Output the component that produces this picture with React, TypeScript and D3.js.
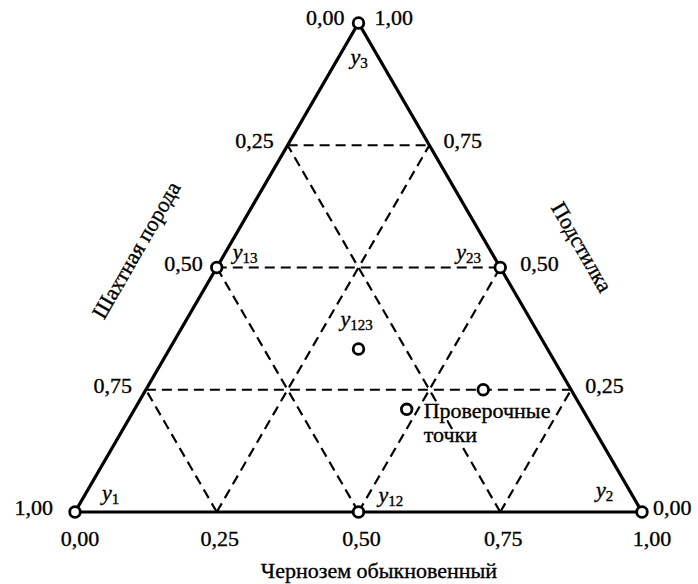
import React from "react";
import * as d3 from "d3";

// ---- data ----
const bottomTicks = ["0,00", "0,25", "0,50", "0,75", "1,00"];
const leftTicks = ["1,00", "0,75", "0,50", "0,25", "0,00"]; // at heights 0 .. 1
const rightTicks = ["0,00", "0,25", "0,50", "0,75", "1,00"]; // at heights 0 .. 1
const tickLevels = [0, 0.25, 0.5, 0.75, 1];
const gridLevels = [0.25, 0.5, 0.75];

const designNames = ["1", "2", "3", "12", "13", "23", "123"];
const designA = [1, 0, 0, 0.5, 0.5, 0, 1 / 3];
const designB = [0, 1, 0, 0.5, 0, 0.5, 1 / 3];
const designC = [0, 0, 1, 0, 0.5, 0.5, 1 / 3];

const checkA = [0.31, 0.155];
const checkB = [0.48, 0.595];
const checkC = [0.21, 0.25];

const bottomTitle = "Чернозем обыкновенный";
const leftTitle = "Шахтная порода";
const rightTitle = "Подстилка";
const checkLabel = ["Проверочные", "точки"];

// ---- layout ----
const W = 698;
const H = 584;
const FONT = "'Liberation Serif', 'Times New Roman', Times, serif";
const FS = 22;

const xs = d3.scaleLinear().domain([0, 1]).range([75, 642]);
const ys = d3.scaleLinear().domain([0, 1]).range([512, 23]);

// barycentric (a,b,c) -> pixel
const P = (b: number, c: number): [number, number] => [xs(b + c / 2), ys(c)];

const designLabelOffsets: Record<string, [number, number]> = {
  "1": [27, -12],
  "2": [-46, -15],
  "3": [-8, 41],
  "12": [20, -10],
  "13": [16, -9],
  "23": [-44, -9],
  "123": [-18, -23],
};

export default function App() {
  const line = d3.line<[number, number]>();
  const A = P(0, 0);
  const B = P(1, 0);
  const C = P(0, 1);

  const grid: [number, number][][] = [];
  gridLevels.forEach((t) => {
    grid.push([P(0, t), P(1 - t, t)]);
    grid.push([P(t, 0), P(t, 1 - t)]);
    grid.push([P(1 - t, 0), P(0, 1 - t)]);
  });

  const txt: React.CSSProperties = {
    fontFamily: FONT,
    fontSize: FS,
    stroke: "#000",
    strokeWidth: 0.35,
  };

  return (
    <svg
      width={W}
      height={H}
      style={{ position: "absolute", left: 0, top: 0, background: "#fff", fontFamily: FONT, fontSize: FS }}
    >
      <rect width={W} height={H} fill="#fff" />
      {grid.map((seg, i) => (
        <path
          key={"g" + i}
          d={line(seg) || ""}
          stroke="#000"
          strokeWidth={2.2}
          strokeDasharray="10,6"
          fill="none"
        />
      ))}
      <path
        d={(line([A, B, C]) || "") + "Z"}
        stroke="#000"
        strokeWidth={3.2}
        fill="none"
        strokeLinejoin="miter"
      />

      {bottomTicks.map((t, i) => {
        const [x] = P(tickLevels[i], 0);
        const dx = i === 0 ? 5 : i === 4 ? 10 : 3;
        return (
          <text key={"bt" + i} x={x + dx} y={546} textAnchor="middle" style={txt}>
            {t}
          </text>
        );
      })}
      {leftTicks.map((t, i) => {
        const h = tickLevels[i];
        const [x, y] = P(0, h);
        if (i === 4) {
          return (
            <text key={"lt" + i} x={x - 14} y={y + 2} textAnchor="end" style={txt}>
              {t}
            </text>
          );
        }
        const off = i === 0 ? 22 : 14;
        return (
          <text key={"lt" + i} x={x - off} y={y + 3} textAnchor="end" style={txt}>
            {t}
          </text>
        );
      })}
      {rightTicks.map((t, i) => {
        const h = tickLevels[i];
        const [x, y] = P(1 - h, h);
        if (i === 4) {
          return (
            <text key={"rt" + i} x={x + 16} y={y + 2} textAnchor="start" style={txt}>
              {t}
            </text>
          );
        }
        const off = i === 0 ? 11 : i === 2 ? 20 : 14;
        return (
          <text key={"rt" + i} x={x + off} y={y + 3} textAnchor="start" style={txt}>
            {t}
          </text>
        );
      })}

      {designNames.map((n, i) => {
        const [x, y] = P(designB[i], designC[i]);
        return (
          <circle key={"d" + n} cx={x} cy={y} r={5.3} fill="#fff" stroke="#000" strokeWidth={2.8} />
        );
      })}
      {designNames.map((n, i) => {
        const [x, y] = P(designB[i], designC[i]);
        const [dx, dy] = designLabelOffsets[n];
        return (
          <text key={"dl" + n} x={x + dx} y={y + dy} style={txt}>
            <tspan fontStyle="italic">y</tspan>
            <tspan style={{ fontSize: 15 }} dy={4}>
              {n}
            </tspan>
          </text>
        );
      })}

      {checkA.map((_, i) => {
        const [x, y] = P(checkB[i], checkC[i]);
        return (
          <circle key={"c" + i} cx={x} cy={y} r={5.3} fill="#fff" stroke="#000" strokeWidth={2.8} />
        );
      })}
      {(() => {
        const [x, y] = P(checkB[0], checkC[0]);
        return checkLabel.map((s, i) => (
          <g key={"cl" + i}>
            <text
              x={x + 17}
              y={y + 9 + i * 24}
              style={{ ...txt, stroke: "#fff", strokeWidth: 4 }}
            >
              {s}
            </text>
            <text x={x + 17} y={y + 9 + i * 24} style={txt}>
              {s}
            </text>
          </g>
        ));
      })()}

      <text x={379} y={578} textAnchor="middle" style={txt}>
        {bottomTitle}
      </text>
      <text
        transform={`translate(136,250) rotate(-60)`}
        textAnchor="middle"
        dominantBaseline="central"
        style={txt}
      >
        {leftTitle}
      </text>
      <text
        transform={`translate(582,247) rotate(60)`}
        textAnchor="middle"
        dominantBaseline="central"
        style={txt}
      >
        {rightTitle}
      </text>
    </svg>
  );
}
